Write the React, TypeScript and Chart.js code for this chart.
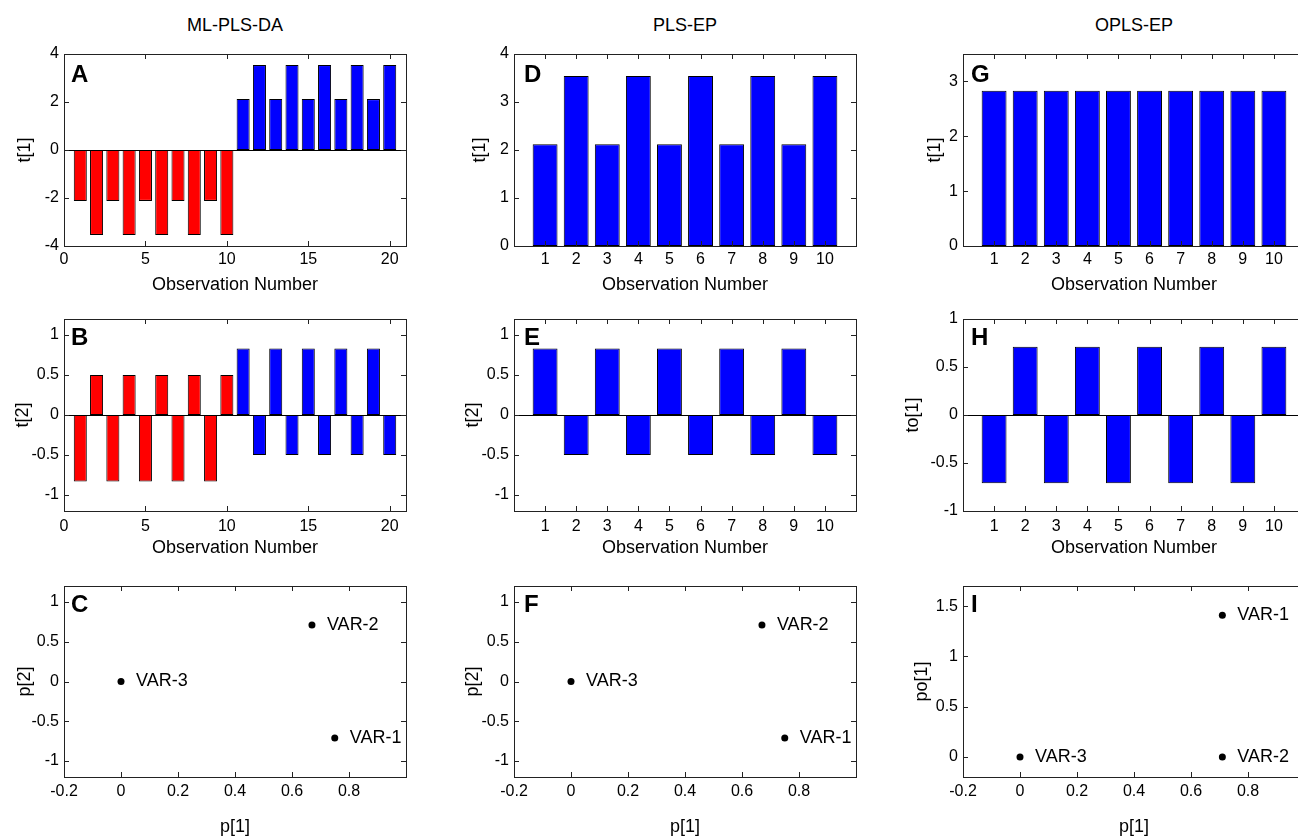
import React, { useEffect, useRef } from 'react';
import { Chart, registerables } from 'chart.js';

Chart.register(...registerables);

const FONT = "'Liberation Sans', Arial, Helvetica, sans-serif";

// ---------- text ----------
const columnTitles = ['ML-PLS-DA', 'PLS-EP', 'OPLS-EP'];
const obsTitle = 'Observation Number';

// ---------- ML-PLS-DA: 20 observations (class 1 = 1..10, class 2 = 11..20) ----------
const obsClass1 = [1, 2, 3, 4, 5, 6, 7, 8, 9, 10];
const obsClass2 = [11, 12, 13, 14, 15, 16, 17, 18, 19, 20];
const t1Class1 = [-2.12, -3.54, -2.12, -3.54, -2.12, -3.54, -2.12, -3.54, -2.12, -3.54];
const t1Class2 = [2.12, 3.54, 2.12, 3.54, 2.12, 3.54, 2.12, 3.54, 2.12, 3.54];
const t2Class1 = [-0.83, 0.5, -0.83, 0.5, -0.83, 0.5, -0.83, 0.5, -0.83, 0.5];
const t2Class2 = [0.83, -0.5, 0.83, -0.5, 0.83, -0.5, 0.83, -0.5, 0.83, -0.5];

// ---------- PLS-EP / OPLS-EP: 10 effect observations ----------
const obsEffect = [1, 2, 3, 4, 5, 6, 7, 8, 9, 10];
const t1PLSEP = [2.12, 3.54, 2.12, 3.54, 2.12, 3.54, 2.12, 3.54, 2.12, 3.54];
const t2PLSEP = [0.83, -0.5, 0.83, -0.5, 0.83, -0.5, 0.83, -0.5, 0.83, -0.5];
const t1OPLSEP = [2.83, 2.83, 2.83, 2.83, 2.83, 2.83, 2.83, 2.83, 2.83, 2.83];
const to1OPLSEP = [-0.71, 0.71, -0.71, 0.71, -0.71, 0.71, -0.71, 0.71, -0.71, 0.71];

// ---------- loadings ----------
const varNames = ['VAR-1', 'VAR-2', 'VAR-3'];
const p1 = [0.75, 0.67, 0];
const p2 = [-0.71, 0.71, 0];
const p1OPLS = [0.71, 0.71, 0];
const po1OPLS = [1.41, 0, 0];

// ---------- tick values ----------
const ticksObs20 = [0, 5, 10, 15, 20];
const ticksObs10 = [1, 2, 3, 4, 5, 6, 7, 8, 9, 10];
const ticksT1A = [-4, -2, 0, 2, 4];
const ticksHalf = [-1, -0.5, 0, 0.5, 1];
const ticksP = [-0.2, 0, 0.2, 0.4, 0.6, 0.8];
const ticksT1D = [0, 1, 2, 3, 4];
const ticksT1G = [0, 1, 2, 3];
const ticksPo = [0, 0.5, 1, 1.5];

// ---------- layout (pixels) ----------
const COL_LEFT = [64, 514, 963];
const PLOT_W = 342;
const ROW_TOP = [54, 319, 586];
const ROW_H = [192, 192, 191];
const X_AXIS_H = [50, 48, 61];
const X_TICK_PAD = [4, 6, 5];
const LETTER_DX = [7, 10, 8];
const LETTER_DY = [28, 26, 26];
const PAD_TOP = 18;
const PAD_RIGHT = 24;

const RED = '#ff0000';
const BLUE = '#0000ff';

type Panel = {
  letter: string;
  col: number;
  row: number;
  kind: 'bar' | 'scatter';
  datasets: any[];
  xRange: [number, number];
  xTicks: number[];
  yRange: [number, number];
  yTicks: number[];
  xTitle: string;
  yTitle: string;
  yAxisW: number;
  labels?: string[];
};

const barSet = (xs: number[], ys: number[], color: string) => ({
  data: xs.map((x, i) => ({ x, y: ys[i] })),
  backgroundColor: color,
  borderColor: '#000',
  borderWidth: 1,
  borderSkipped: false,
  categoryPercentage: 0.8,
  barPercentage: 1,
  grouped: false,
});

const pointSet = (xs: number[], ys: number[]) => ({
  data: xs.map((x, i) => ({ x, y: ys[i] })),
  pointRadius: 3.5,
  pointBackgroundColor: '#000',
  pointBorderWidth: 0,
  showLine: false,
});

const panels: Panel[] = [
  { letter: 'A', col: 0, row: 0, kind: 'bar', datasets: [barSet(obsClass1, t1Class1, RED), barSet(obsClass2, t1Class2, BLUE)], xRange: [0, 21], xTicks: ticksObs20, yRange: [-4, 4], yTicks: ticksT1A, xTitle: obsTitle, yTitle: 't[1]', yAxisW: 50 },
  { letter: 'B', col: 0, row: 1, kind: 'bar', datasets: [barSet(obsClass1, t2Class1, RED), barSet(obsClass2, t2Class2, BLUE)], xRange: [0, 21], xTicks: ticksObs20, yRange: [-1.2, 1.2], yTicks: ticksHalf, xTitle: obsTitle, yTitle: 't[2]', yAxisW: 52 },
  { letter: 'C', col: 0, row: 2, kind: 'scatter', datasets: [pointSet(p1, p2)], xRange: [-0.2, 1.0], xTicks: ticksP, yRange: [-1.2, 1.2], yTicks: ticksHalf, xTitle: 'p[1]', yTitle: 'p[2]', yAxisW: 50, labels: varNames },
  { letter: 'D', col: 1, row: 0, kind: 'bar', datasets: [barSet(obsEffect, t1PLSEP, BLUE)], xRange: [0, 11], xTicks: ticksObs10, yRange: [0, 4], yTicks: ticksT1D, xTitle: obsTitle, yTitle: 't[1]', yAxisW: 45 },
  { letter: 'E', col: 1, row: 1, kind: 'bar', datasets: [barSet(obsEffect, t2PLSEP, BLUE)], xRange: [0, 11], xTicks: ticksObs10, yRange: [-1.2, 1.2], yTicks: ticksHalf, xTitle: obsTitle, yTitle: 't[2]', yAxisW: 52 },
  { letter: 'F', col: 1, row: 2, kind: 'scatter', datasets: [pointSet(p1, p2)], xRange: [-0.2, 1.0], xTicks: ticksP, yRange: [-1.2, 1.2], yTicks: ticksHalf, xTitle: 'p[1]', yTitle: 'p[2]', yAxisW: 52, labels: varNames },
  { letter: 'G', col: 2, row: 0, kind: 'bar', datasets: [barSet(obsEffect, t1OPLSEP, BLUE)], xRange: [0, 11], xTicks: ticksObs10, yRange: [0, 3.5], yTicks: ticksT1G, xTitle: obsTitle, yTitle: 't[1]', yAxisW: 39 },
  { letter: 'H', col: 2, row: 1, kind: 'bar', datasets: [barSet(obsEffect, to1OPLSEP, BLUE)], xRange: [0, 11], xTicks: ticksObs10, yRange: [-1, 1], yTicks: ticksHalf, xTitle: obsTitle, yTitle: 'to[1]', yAxisW: 61 },
  { letter: 'I', col: 2, row: 2, kind: 'scatter', datasets: [pointSet(p1OPLS, po1OPLS)], xRange: [-0.2, 1.0], xTicks: ticksP, yRange: [-0.2, 1.7], yTicks: ticksPo, xTitle: 'p[1]', yTitle: 'po[1]', yAxisW: 52, labels: varNames },
];

const matlabAxes = {
  id: 'matlabAxes',
  afterDatasetsDraw(chart: any, _args: any, opts: any) {
    const { ctx } = chart;
    const { left, top, right, bottom } = chart.chartArea;
    const xs = chart.scales.x;
    const ys = chart.scales.y;
    const r = (v: number) => Math.round(v) + 0.5;
    const line = (x1: number, y1: number, x2: number, y2: number) => {
      ctx.beginPath();
      ctx.moveTo(x1, y1);
      ctx.lineTo(x2, y2);
      ctx.stroke();
    };
    ctx.save();
    ctx.strokeStyle = '#000';
    ctx.lineWidth = 1;
    if (opts.zeroLine) {
      const y0 = r(ys.getPixelForValue(0));
      line(left, y0, right, y0);
    }
    const L = Math.round(left), T = Math.round(top), R = Math.round(right), B = Math.round(bottom);
    ctx.strokeStyle = '#222';
    ctx.strokeRect(L + 0.5, T + 0.5, R - L, B - T);
    const TL = 5;
    xs.ticks.forEach((t: any) => {
      const px = r(xs.getPixelForValue(t.value));
      line(px, B, px, B - TL);
      line(px, T, px, T + TL);
    });
    ys.ticks.forEach((t: any) => {
      const py = r(ys.getPixelForValue(t.value));
      line(L, py, L + TL, py);
      line(R, py, R - TL, py);
    });
    ctx.fillStyle = '#000';
    ctx.textAlign = 'left';
    ctx.textBaseline = 'alphabetic';
    ctx.font = `bold 24px ${FONT}`;
    ctx.fillText(opts.letter, left + opts.letterDx, top + opts.letterDy);
    if (opts.labels) {
      const meta = chart.getDatasetMeta(0);
      ctx.font = `18px ${FONT}`;
      ctx.textBaseline = 'middle';
      meta.data.forEach((pt: any, i: number) => {
        ctx.fillText(opts.labels[i], pt.x + 15, pt.y);
      });
    }
    ctx.restore();
  },
};

function PanelChart({ panel }: { panel: Panel }) {
  const ref = useRef<HTMLCanvasElement>(null);
  const xAxisH = X_AXIS_H[panel.row];
  const width = panel.yAxisW + PLOT_W + PAD_RIGHT;
  const height = PAD_TOP + ROW_H[panel.row] + xAxisH;
  const left = COL_LEFT[panel.col] - panel.yAxisW;
  const top = ROW_TOP[panel.row] - PAD_TOP;

  useEffect(() => {
    if (!ref.current) return;
    const tickFont = { family: FONT, size: 16 };
    const titleFont = { family: FONT, size: 18 };
    const fmt = (v: any) => String(Math.round(Number(v) * 100) / 100);
    const chart = new Chart(ref.current, {
      type: panel.kind,
      data: { datasets: panel.datasets },
      plugins: [matlabAxes],
      options: {
        animation: false,
        responsive: false,
        devicePixelRatio: 1,
        layout: { padding: { left: 0, top: PAD_TOP, right: PAD_RIGHT, bottom: 0 } },
        plugins: {
          legend: { display: false },
          tooltip: { enabled: false },
          matlabAxes: {
            zeroLine: panel.kind === 'bar',
            letter: panel.letter,
            letterDx: LETTER_DX[panel.col],
            letterDy: LETTER_DY[panel.row],
            labels: panel.labels,
          },
        },
        scales: {
          x: {
            type: 'linear',
            offset: false,
            min: panel.xRange[0],
            max: panel.xRange[1],
            afterBuildTicks: (s: any) => {
              s.ticks = panel.xTicks.map((v) => ({ value: v }));
            },
            afterFit: (s: any) => {
              s.height = xAxisH;
            },
            grid: { display: false, drawTicks: false },
            border: { display: false },
            ticks: {
              autoSkip: false,
              maxRotation: 0,
              padding: X_TICK_PAD[panel.row],
              color: '#000',
              font: tickFont,
              callback: fmt,
            },
            title: { display: true, text: panel.xTitle, color: '#000', font: titleFont, padding: 0 },
          },
          y: {
            type: 'linear',
            min: panel.yRange[0],
            max: panel.yRange[1],
            afterBuildTicks: (s: any) => {
              s.ticks = panel.yTicks.map((v) => ({ value: v }));
            },
            afterFit: (s: any) => {
              s.width = panel.yAxisW;
            },
            grid: { display: false, drawTicks: false },
            border: { display: false },
            ticks: {
              autoSkip: false,
              padding: 5,
              color: '#000',
              font: tickFont,
              callback: fmt,
            },
            title: { display: true, text: panel.yTitle, color: '#000', font: titleFont, padding: 0 },
          },
        },
      } as any,
    } as any);
    return () => chart.destroy();
  }, []);

  return (
    <canvas
      ref={ref}
      width={width}
      height={height}
      style={{ position: 'absolute', left, top, width, height }}
    />
  );
}

export default function App() {
  return (
    <div
      style={{
        position: 'fixed',
        left: 0,
        top: 0,
        width: 1298,
        height: 837,
        overflow: 'hidden',
        background: '#fff',
      }}
    >
      {columnTitles.map((t, i) => (
        <div
          key={t}
          style={{
            position: 'absolute',
            left: COL_LEFT[i] + PLOT_W / 2 - 100,
            top: 15,
            width: 200,
            textAlign: 'center',
            fontFamily: FONT,
            fontSize: 18,
            lineHeight: '20px',
            color: '#000',
          }}
        >
          {t}
        </div>
      ))}
      {panels.map((p) => (
        <PanelChart key={p.letter} panel={p} />
      ))}
    </div>
  );
}
